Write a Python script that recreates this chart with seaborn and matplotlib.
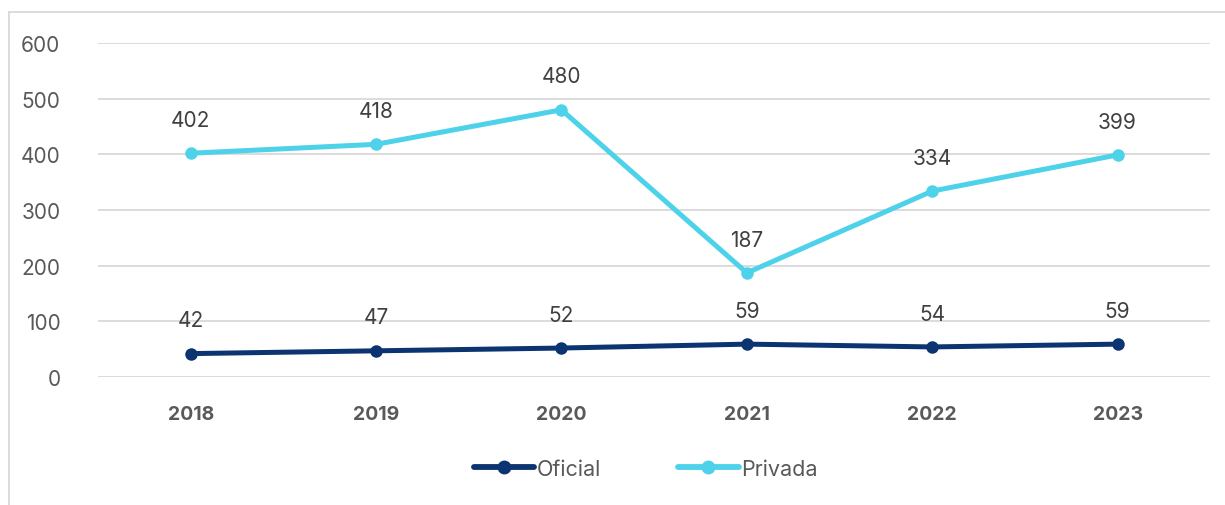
import matplotlib.pyplot as plt
import seaborn as sns
import pandas as pd
from matplotlib.lines import Line2D

# 数据
years = ["2018", "2019", "2020", "2021", "2022", "2023"]
oficial = [42, 47, 52, 59, 54, 59]
privada = [402, 418, 480, 187, 334, 399]
series_names = ["Oficial", "Privada"]
colors = ["#0B3470", "#4DD2EA"]

df = pd.DataFrame({
    "year": years * 2,
    "value": oficial + privada,
    "serie": [series_names[0]] * len(years) + [series_names[1]] * len(years),
})

sns.set_theme(style="white")
plt.rcParams["font.family"] = ["Inter", "DejaVu Sans"]

fig = plt.figure(figsize=(12.25, 5.06), dpi=100)
ax = fig.add_axes([0.080, 0.253, 0.908, 0.660])

sns.lineplot(
    data=df, x="year", y="value", hue="serie", palette=colors,
    marker="o", markersize=9, markeredgewidth=0, linewidth=3.6,
    ax=ax, legend=False, sort=False,
)

# 数据标签
for vals in (oficial, privada):
    for i, v in enumerate(vals):
        ax.annotate(str(v), (i, v), textcoords="offset points", xytext=(0, 24),
                    ha="center", va="center", fontsize=15, color="#404040")

ax.set_xlim(-0.5, 5.5)
ax.set_ylim(0, 600)
ax.set_yticks(range(0, 601, 100))
ax.yaxis.grid(True, color="#D9D9D9", linewidth=1.3)
ax.set_axisbelow(True)
for s in ax.spines.values():
    s.set_visible(False)
ax.set_xlabel("")
ax.set_ylabel("")
ax.tick_params(axis="y", labelsize=15, labelcolor="#595959", length=0, pad=27)
ax.tick_params(axis="x", labelsize=14, labelcolor="#595959", length=0, pad=20)
for lbl in ax.get_xticklabels():
    lbl.set_fontweight("bold")

# 图例
handles = [Line2D([0], [0], color=c, linewidth=4.2, marker="o", markersize=9,
                  solid_capstyle="round") for c in colors]
fig.legend(handles, series_names, loc="center", bbox_to_anchor=(0.527, 0.072),
           ncol=2, frameon=False, fontsize=15.5, labelcolor="#595959",
           handlelength=2.8, handletextpad=0.1, columnspacing=3.6)

# 外框
fig.add_artist(Line2D([9 / 1225, 1.0], [1 - 13 / 506] * 2, color="#D9D9D9", linewidth=1.3,
                      transform=fig.transFigure))
fig.add_artist(Line2D([9 / 1225] * 2, [0, 1 - 13 / 506], color="#D9D9D9", linewidth=1.3,
                      transform=fig.transFigure))

plt.savefig("out.png", dpi=100)
plt.close()
